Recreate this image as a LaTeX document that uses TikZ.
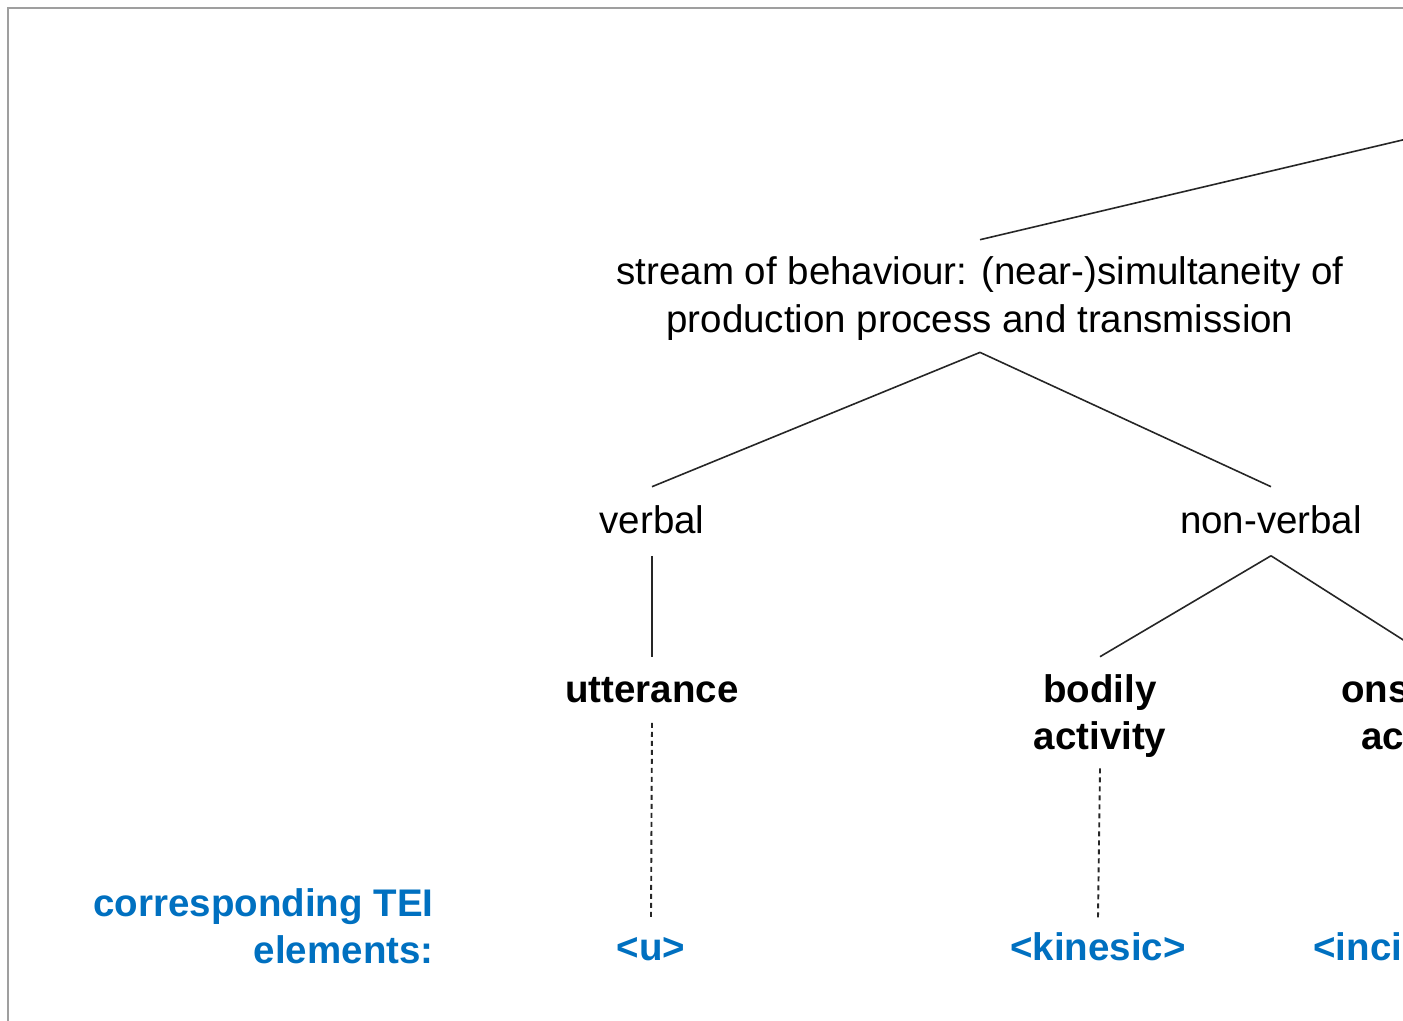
\documentclass[tikz,border=0pt]{standalone}
\usepackage{fontspec}
\setmainfont{Liberation Sans}
\definecolor{teiblue}{HTML}{0070C0}
\definecolor{lnk}{HTML}{262626}
\begin{document}
\begin{tikzpicture}[x=0.5pt,y=-0.5pt,
  lbl/.style={font=\fontsize{19.25}{24}\selectfont, inner sep=0pt, align=center, anchor=base},
  bl/.style={font=\fontsize{19.25}{23.5}\selectfont\bfseries, inner sep=0pt, align=center, anchor=base},
  tei/.style={bl, text=teiblue},
  edge/.style={draw=lnk, line width=0.8pt},
  link/.style={draw=lnk, line width=0.95pt, dash pattern=on 2.5pt off 2pt}]
\useasboundingbox (0,0) rectangle (1403,1021);
\clip (0,0) rectangle (1403,1021);
\draw[gray!75, line width=1pt] (8,1040) -- (8,8) -- (1420,8);
\node[lbl] (sob) at (980,333) {stream of behaviour: (near-)simultaneity of\\production process and transmission};
\coordinate (top) at (1500,117);
\node[lbl] (verbal) at (652,533) {verbal};
\node[lbl] (nonverbal) at (1271,533) {non-verbal};
\node[bl] (utt) at (652,702) {utterance};
\node[bl] (bodily) at (1100,749) {bodily\\activity};
\node[bl, align=left, anchor=base west] (ons) at (1341,749) {ons\\\hspace*{10pt}ac};
\coordinate (onsc) at (1430,657);
\node[tei] (u) at (651,960) {<u>};
\node[tei] (kin) at (1098,960) {<kinesic>};
\node[tei, anchor=base west] (inc) at (1313,960) {<inci};
\node[tei, align=right, anchor=base east] (corr) at (434,963) {corresponding TEI\\elements:};
\draw[edge] ([yshift=8.5pt]sob.north) -- (top);
\draw[edge] ([yshift=-5.5pt]sob.south) -- ([yshift=9pt]verbal.north);
\draw[edge] ([yshift=-5.5pt]sob.south) -- ([yshift=9pt]nonverbal.north);
\draw[edge] ([yshift=-11pt]verbal.south) -- ([yshift=9.5pt]utt.north);
\draw[edge] ([yshift=-11pt]nonverbal.south) -- ([yshift=8.5pt]bodily.north);
\draw[edge] ([yshift=-11pt]nonverbal.south) -- (onsc);
\draw[link] ([yshift=-10pt]utt.south) -- ([yshift=8.5pt]u.north);
\draw[link] ([yshift=-5.5pt]bodily.south) -- ([yshift=7pt]kin.north);
\end{tikzpicture}
\end{document}
